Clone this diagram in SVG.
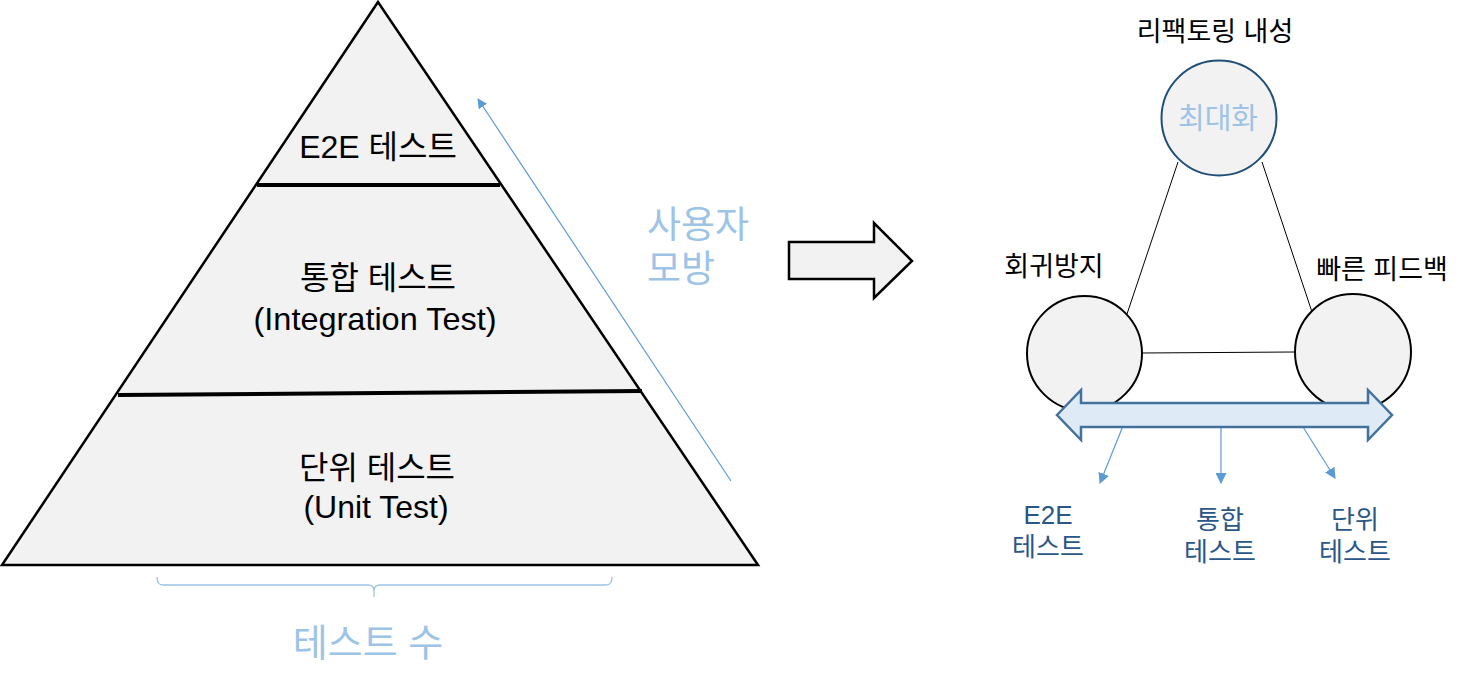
<svg xmlns="http://www.w3.org/2000/svg" width="1467" height="688" viewBox="0 0 1467 688">
<defs>
<style>
text{font-family:"Liberation Sans","Noto Sans CJK KR",sans-serif;}
.pt{font-size:32px;fill:#000;text-anchor:middle;}
.lb{fill:#9DC3E6;text-anchor:middle;}
.hd{font-size:27px;fill:#000;text-anchor:middle;}
.bl{font-size:26px;fill:#2B5788;text-anchor:middle;}
.thin{stroke:#5B9BD5;stroke-width:1.2;fill:none;}
.circ{fill:#F2F2F2;stroke:#000;stroke-width:2;}
</style>
<marker id="ah" viewBox="0 0 10 10" refX="9" refY="5" markerWidth="10" markerHeight="10" markerUnits="userSpaceOnUse" orient="auto">
<path d="M0,0 L10,5 L0,10 Z" fill="#5B9BD5"/>
</marker>
<marker id="ah2" viewBox="0 0 10 10" refX="9" refY="5" markerWidth="11" markerHeight="11" markerUnits="userSpaceOnUse" orient="auto">
<path d="M0,0 L10,5 L0,10 Z" fill="#5B9BD5"/>
</marker>
</defs>
<rect width="1467" height="688" fill="#fff"/>

<g id="pyramid">
<polygon points="378,2 2,565 758,565" fill="#F2F2F2" stroke="#000" stroke-width="2.5" stroke-linejoin="miter"/>
<line x1="257" y1="185" x2="500" y2="185" stroke="#000" stroke-width="4"/>
<line x1="118" y1="395" x2="642" y2="391" stroke="#000" stroke-width="4"/>
</g>
<g id="e2e-layer"><text class="pt" x="378" y="158">E2E 테스트</text></g>
<g id="integration-layer">
<text class="pt" x="378" y="289">통합 테스트</text>
<text class="pt" x="375" y="330" textLength="243" lengthAdjust="spacingAndGlyphs">(Integration  Test)</text>
</g>
<g id="unit-layer">
<text class="pt" x="377" y="479">단위 테스트</text>
<text class="pt" x="376" y="518">(Unit  Test)</text>
</g>

<g id="user-sim">
<text class="lb" x="647" y="238" font-size="37" style="text-anchor:start">사용자</text>
<text class="lb" x="647" y="282" font-size="37" style="text-anchor:start">모방</text>
</g>

<g id="test-count">
<path d="M157,577 Q157,585 163,585 L368,585 Q374,585 374,591 L374,597 M374,591 Q374,585 380,585 L606,585 Q612,585 612,577" fill="none" stroke="#9DC3E6" stroke-width="1.3"/>
<text class="lb" x="368" y="656" font-size="38">테스트 수</text>
</g>

<g id="block-arrow">
<polygon points="789,242 874,242 874,223 912,261 874,298 874,279 789,279" fill="#F2F2F2" stroke="#000" stroke-width="2.5"/>
</g>

<g id="connectors">
<line class="thin" x1="731" y1="481" x2="478" y2="99" marker-end="url(#ah)"/>
<line x1="1178" y1="162" x2="1127" y2="314" stroke="#000" stroke-width="1"/>
<line x1="1262" y1="162" x2="1312" y2="312" stroke="#000" stroke-width="1"/>
<line x1="1142" y1="353" x2="1295" y2="352" stroke="#000" stroke-width="1"/>
<line class="thin" x1="1125" y1="421" x2="1100" y2="483" marker-end="url(#ah2)"/>
<line class="thin" x1="1221" y1="427" x2="1221" y2="483" marker-end="url(#ah2)"/>
<line class="thin" x1="1298" y1="419" x2="1335" y2="478" marker-end="url(#ah2)"/>
</g>

<g id="node-refactor">
<circle cx="1219" cy="118" r="57.5" fill="#F2F2F2" stroke="#1F4E79" stroke-width="2"/>
<text x="1218" y="129" font-size="29" class="lb">최대화</text>
<text class="hd" x="1215" y="41">리팩토링 내성</text>
</g>
<g id="node-regression">
<circle class="circ" cx="1084.5" cy="353.5" r="57.5"/>
<text class="hd" x="1054" y="276">회귀방지</text>
</g>
<g id="node-feedback">
<circle class="circ" cx="1353" cy="352" r="58"/>
<text class="hd" x="1382" y="279">빠른 피드백</text>
</g>

<g id="double-arrow">
<polygon points="1057,415 1081,390 1081,403 1368,403 1368,390 1392,415 1368,440 1368,427 1081,427 1081,440" fill="#DEEBF7" stroke="#41719C" stroke-width="2.5" stroke-linejoin="miter"/>
</g>

<g id="label-e2e">
<text class="bl" x="1048" y="524">E2E</text>
<text class="bl" x="1048" y="556">테스트</text>
</g>
<g id="label-integration">
<text class="bl" x="1220" y="529">통합</text>
<text class="bl" x="1220" y="561">테스트</text>
</g>
<g id="label-unit">
<text class="bl" x="1355" y="529">단위</text>
<text class="bl" x="1355" y="561">테스트</text>
</g>
</svg>
